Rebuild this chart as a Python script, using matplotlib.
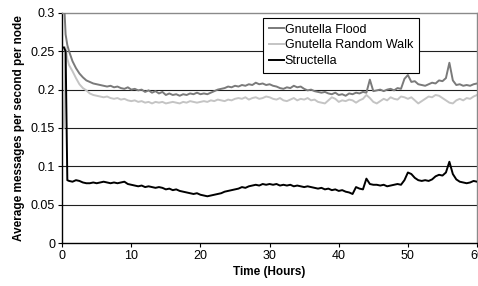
import numpy as np
import matplotlib
matplotlib.use("Agg")
import matplotlib.pyplot as plt

plt.rcParams['font.family'] = ['Liberation Sans', 'DejaVu Sans']

# time axis (hours): a few early samples, then every half hour
t_start = [0.25, 0.5, 0.75]
t_main = list(np.arange(1.0, 60.01, 0.5))
hours = np.array(t_start + t_main)

flood = [0.320, 0.272, 0.258,
         0.250, 0.237, 0.228, 0.221, 0.216, 0.212, 0.210, 0.208, 0.207, 0.206,
         0.205, 0.204, 0.205, 0.203, 0.204, 0.202, 0.201, 0.203, 0.200, 0.201,
         0.199, 0.200, 0.197, 0.199, 0.196, 0.198, 0.195, 0.197, 0.193, 0.195,
         0.193, 0.194, 0.192, 0.194, 0.193, 0.195, 0.194, 0.196, 0.194, 0.195,
         0.194, 0.196, 0.198, 0.200, 0.201, 0.202, 0.204, 0.203, 0.205, 0.204,
         0.206, 0.205, 0.207, 0.206, 0.209, 0.207, 0.208, 0.206, 0.207, 0.205,
         0.204, 0.202, 0.201, 0.203, 0.202, 0.205, 0.203, 0.204, 0.201, 0.199,
         0.200, 0.198, 0.197, 0.196, 0.197, 0.195, 0.194, 0.196, 0.193, 0.194,
         0.192, 0.195, 0.194, 0.196, 0.195, 0.197, 0.196, 0.213, 0.198, 0.199,
         0.200, 0.198, 0.200, 0.201, 0.199, 0.202, 0.201, 0.214, 0.219, 0.210,
         0.211, 0.207, 0.206, 0.205, 0.207, 0.209, 0.208, 0.212, 0.211, 0.215,
         0.235, 0.212, 0.206, 0.207, 0.205, 0.206, 0.205, 0.207, 0.208]

random_walk = [0.150, 0.255, 0.240,
               0.232, 0.224, 0.215, 0.207, 0.202, 0.199, 0.195, 0.193, 0.192, 0.191,
               0.190, 0.191, 0.189, 0.188, 0.189, 0.187, 0.188, 0.186, 0.185, 0.186,
               0.184, 0.185, 0.183, 0.184, 0.182, 0.184, 0.183, 0.184, 0.182, 0.183,
               0.184, 0.183, 0.182, 0.184, 0.183, 0.185, 0.184, 0.183, 0.184, 0.185,
               0.184, 0.186, 0.185, 0.187, 0.186, 0.185, 0.187, 0.186, 0.188, 0.189,
               0.188, 0.190, 0.187, 0.189, 0.190, 0.188, 0.189, 0.191, 0.190, 0.188,
               0.187, 0.189, 0.186, 0.185, 0.187, 0.189, 0.186, 0.188, 0.187, 0.189,
               0.186, 0.187, 0.184, 0.183, 0.182, 0.186, 0.190, 0.188, 0.184, 0.186,
               0.185, 0.187, 0.186, 0.183, 0.186, 0.188, 0.193, 0.189, 0.184, 0.182,
               0.185, 0.188, 0.186, 0.190, 0.188, 0.187, 0.191, 0.190, 0.188, 0.190,
               0.186, 0.182, 0.185, 0.188, 0.191, 0.190, 0.193, 0.192, 0.189, 0.186,
               0.183, 0.182, 0.186, 0.188, 0.186, 0.189, 0.188, 0.191, 0.193]

structella = [0.255, 0.250, 0.082,
              0.081, 0.080, 0.082, 0.081, 0.079, 0.078, 0.078, 0.079, 0.078, 0.079,
              0.080, 0.079, 0.078, 0.079, 0.078, 0.079, 0.080, 0.077, 0.076, 0.075,
              0.074, 0.075, 0.073, 0.074, 0.073, 0.072, 0.073, 0.072, 0.070, 0.071,
              0.069, 0.070, 0.068, 0.067, 0.066, 0.065, 0.064, 0.065, 0.063, 0.062,
              0.061, 0.062, 0.063, 0.064, 0.065, 0.067, 0.068, 0.069, 0.070, 0.071,
              0.073, 0.072, 0.074, 0.075, 0.076, 0.075, 0.077, 0.076, 0.077, 0.076,
              0.077, 0.075, 0.076, 0.075, 0.076, 0.074, 0.075, 0.074, 0.073, 0.074,
              0.073, 0.072, 0.071, 0.072, 0.070, 0.071, 0.069, 0.070, 0.068, 0.069,
              0.067, 0.066, 0.064, 0.073, 0.071, 0.070, 0.084, 0.077, 0.076, 0.076,
              0.075, 0.076, 0.074, 0.075, 0.076, 0.077, 0.076, 0.082, 0.092, 0.090,
              0.085, 0.082, 0.081, 0.082, 0.081, 0.083, 0.087, 0.089, 0.088, 0.092,
              0.106, 0.090, 0.083, 0.080, 0.079, 0.078, 0.079, 0.081, 0.080]

series_names = ['Gnutella Flood', 'Gnutella Random Walk', 'Structella']
y_ticks = [0, 0.05, 0.1, 0.15, 0.2, 0.25, 0.3]
y_ticklabels = ['0', '0.05', '0.1', '0.15', '0.2', '0.25', '0.3']
x_ticks = [0, 10, 20, 30, 40, 50, 60]

fig = plt.figure(figsize=(4.78, 2.86), dpi=100)
ax = fig.add_axes([0.130, 0.150, 0.868, 0.805])

for y in y_ticks[1:-1]:
    ax.axhline(y, color='#202020', lw=0.8, zorder=1)

ax.plot(hours, flood, color='#7a7a7a', lw=1.4, label=series_names[0], zorder=3)
ax.plot(hours, random_walk, color='#c4c4c4', lw=1.4, label=series_names[1], zorder=2)
ax.plot(hours, structella, color='black', lw=1.4, label=series_names[2], zorder=4)

ax.set_xlim(0, 60)
ax.set_ylim(0, 0.3)
ax.set_yticks(y_ticks)
ax.set_yticklabels(y_ticklabels)
ax.set_xticks(x_ticks)
ax.tick_params(direction='out', length=3, width=0.8, labelsize=9, colors='black', pad=2)

for side in ['top', 'right']:
    ax.spines[side].set_color('#8a8a8a')
    ax.spines[side].set_linewidth(1.0)
for side in ['left', 'bottom']:
    ax.spines[side].set_color('black')
    ax.spines[side].set_linewidth(1.0)

ax.set_xlabel('Time (Hours)', fontsize=8.5, fontweight='bold', labelpad=3)
ax.set_ylabel('Average messages per second per node', fontsize=8.5, fontweight='bold', labelpad=4)

leg = ax.legend(loc='upper left', bbox_to_anchor=(263 / 478, 1 - 18 / 286),
                bbox_transform=fig.transFigure, borderaxespad=0,
                fontsize=9, handlelength=1.2, handletextpad=0.1,
                labelspacing=0.3, borderpad=0.45, fancybox=False,
                framealpha=1, edgecolor='black')
leg.get_frame().set_linewidth(0.8)

fig.savefig('out.png', dpi=100)
